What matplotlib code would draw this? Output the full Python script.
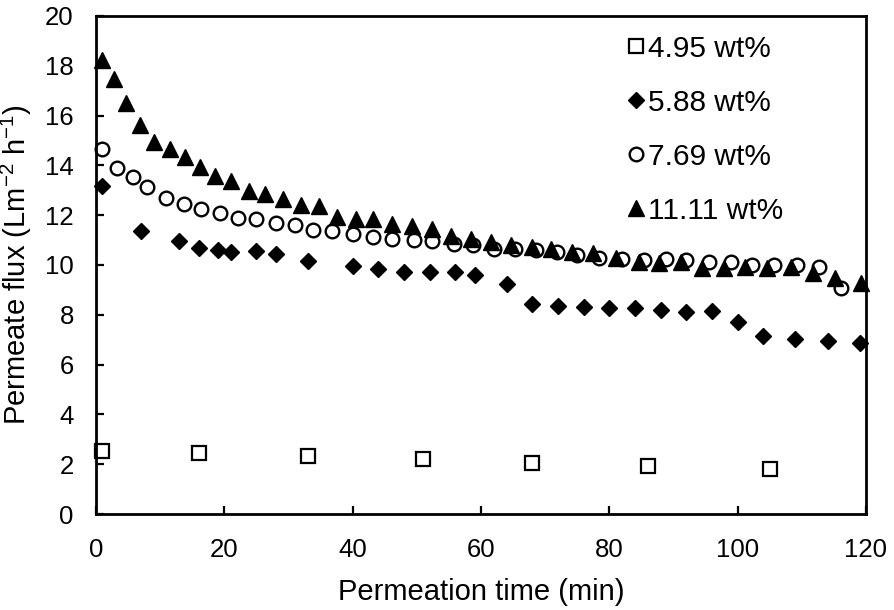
import matplotlib
matplotlib.use("Agg")
import matplotlib.pyplot as plt

plt.rcParams['font.family'] = ['Liberation Sans', 'DejaVu Sans']
plt.rcParams['mathtext.default'] = 'regular'

# Data
t_495 = [1, 16, 33, 51, 68, 86, 105]
f_495 = [2.53, 2.46, 2.34, 2.22, 2.05, 1.92, 1.80]

t_588 = [1, 7, 13, 16, 19, 21, 25, 28, 33, 40, 44, 48, 52, 56, 59, 64, 68, 72,
         76, 80, 84, 88, 92, 96, 100, 104, 109, 114, 119]
f_588 = [13.17, 11.36, 10.96, 10.70, 10.60, 10.53, 10.56, 10.46, 10.17, 9.95,
         9.84, 9.70, 9.70, 9.70, 9.60, 9.24, 8.44, 8.37, 8.33, 8.26, 8.26, 8.20,
         8.13, 8.16, 7.73, 7.13, 7.02, 6.93, 6.86]

t_769 = [1, 3.2, 5.7, 8, 10.9, 13.7, 16.3, 19.4, 22.2, 25, 28, 31, 33.8, 36.8,
         40, 43.2, 46.1, 49.5, 52.4, 55.8, 58.7, 62, 65.3, 68.5, 71.9, 75, 78.4,
         82, 85.4, 88.8, 91.9, 95.5, 98.9, 102.3, 105.7, 109.3, 112.7, 116.1]
f_769 = [14.66, 13.89, 13.53, 13.13, 12.69, 12.46, 12.26, 12.09, 11.89, 11.84,
         11.70, 11.60, 11.40, 11.36, 11.24, 11.13, 11.04, 11.00, 10.97, 10.86,
         10.80, 10.66, 10.64, 10.60, 10.53, 10.40, 10.29, 10.26, 10.20, 10.24,
         10.20, 10.13, 10.13, 10.02, 10.00, 10.00, 9.93, 9.09]

t_1111 = [1, 2.8, 4.7, 6.8, 9.1, 11.5, 13.8, 16.2, 18.6, 21.1, 23.9, 26.3, 29.1,
          32, 34.8, 37.6, 40.5, 43.2, 46.2, 49.3, 52.3, 55.4, 58.4, 61.5, 64.6,
          68, 70.9, 74.2, 77.5, 81.1, 84.7, 87.7, 91.1, 94.5, 97.8, 101.2, 104.6,
          108.3, 111.8, 115.2, 119.2]
f_1111 = [18.24, 17.46, 16.50, 15.64, 14.93, 14.64, 14.33, 13.93, 13.56, 13.37,
          12.96, 12.86, 12.66, 12.42, 12.37, 11.93, 11.86, 11.86, 11.66, 11.57,
          11.44, 11.17, 11.04, 10.93, 10.80, 10.73, 10.66, 10.53, 10.49, 10.30,
          10.13, 10.09, 10.13, 9.86, 9.86, 9.93, 9.86, 9.93, 9.66, 9.49, 9.26]

labels = ['4.95 wt%', '5.88 wt%', '7.69 wt%', '11.11 wt%']
x_ticks = [0, 20, 40, 60, 80, 100, 120]
y_ticks = [0, 2, 4, 6, 8, 10, 12, 14, 16, 18, 20]

fig = plt.figure(figsize=(8.94, 6.10), dpi=100)
ax = fig.add_axes([96/894, 1 - 514/610, 770/894, 498/610])

ax.plot(t_495, f_495, linestyle='none', marker='s', ms=10.5, mfc='white',
        mec='black', mew=1.6, label=labels[0], clip_on=False)
ax.plot(t_588, f_588, linestyle='none', marker='D', ms=8, mfc='black',
        mec='black', mew=1.0, label=labels[1], clip_on=False)
ax.plot(t_769, f_769, linestyle='none', marker='o', ms=9.8, mfc='white',
        mec='black', mew=1.7, label=labels[2], clip_on=False)
ax.plot(t_1111, f_1111, linestyle='none', marker='^', ms=11.8, mfc='black',
        mec='black', mew=1.0, label=labels[3], clip_on=False)

ax.set_xlim(0, 120)
ax.set_ylim(0, 20)
ax.set_xticks(x_ticks)
ax.set_yticks(y_ticks)
ax.tick_params(direction='in', length=5.5, width=1.6, labelsize=18.5)
ax.tick_params(axis='x', pad=17)
ax.tick_params(axis='y', pad=16)
for s in ax.spines.values():
    s.set_linewidth(2.0)

ax.set_xlabel('Permeation time (min)', fontsize=21, labelpad=12)
ax.set_ylabel(r'Permeate flux (Lm$^{-2}$ h$^{-1}$)', fontsize=21, labelpad=8)

ax.legend(loc='upper left', bbox_to_anchor=(0.692, 0.962), frameon=False,
          fontsize=21.5, handlelength=0.5, handletextpad=0.15, labelspacing=0.87,
          borderpad=0, borderaxespad=0)

fig.savefig('out.png', dpi=100)
